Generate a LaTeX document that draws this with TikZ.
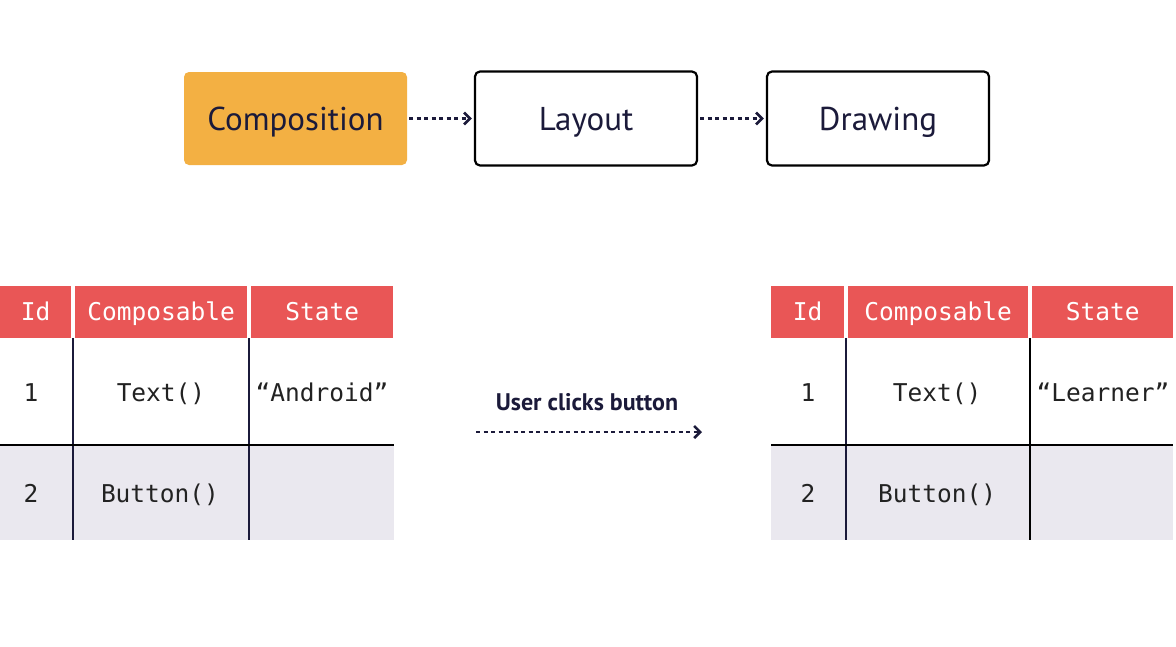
\documentclass[tikz,border=0pt]{standalone}
\usepackage{fontspec}
\setmainfont{PT Sans}
\setmonofont{DejaVu Sans Mono}
\usetikzlibrary{arrows.meta}
\definecolor{navy}{HTML}{1B1A3A}
\definecolor{orangebox}{HTML}{F3B043}
\definecolor{hdrred}{HTML}{E95656}
\definecolor{rowgray}{HTML}{EAE8EF}
\definecolor{celltext}{HTML}{222222}
\begin{document}
\begin{tikzpicture}[x=1pt,y=-1pt,
  stagefont/.style={text=navy, text height=23pt, text depth=0pt, font=\fontsize{33}{36}\selectfont},
  stage/.style={draw=black, line width=2.2pt, rounded corners=5pt, minimum width=222pt, minimum height=94pt, inner sep=0pt, stagefont},
  stagefill/.style={fill=orangebox, rounded corners=5pt, minimum width=223pt, minimum height=93pt, inner sep=0pt, stagefont},
  flow/.style={draw=navy, line width=2.4pt, dash pattern=on 4pt off 3.5pt, -{Straight Barb[length=6pt,width=12pt,line width=2.6pt]}},
  hdr/.style={fill=hdrred, text=white, inner sep=0pt, anchor=north west, minimum height=52pt, text height=17pt, text depth=-3pt, font=\ttfamily\fontsize{24.5}{27}\selectfont},
  cell/.style={text=celltext, inner sep=0pt, text height=17pt, text depth=0pt, font=\ttfamily\fontsize{24.5}{27}\selectfont},
  gridline/.style={draw=navy, line width=2.2pt}
]
\useasboundingbox[fill=white] (0,0) rectangle (1176,646);

% top flow
\node[stagefill] (comp) at (295.5,118.5) {Composition};
\node[stage] (layout) at (586,118.5) {Layout};
\node[stage] (drawing) at (878,118.5) {Drawing};
\draw[flow] ([xshift=2pt]comp.east) -- ([xshift=-2pt]layout.west);
\draw[flow] ([xshift=2pt]layout.east) -- ([xshift=-2pt]drawing.west);

% left table
\fill[rowgray] (0,445) rectangle (394,540);
\node[hdr, minimum width=71pt] (lid) at (0,286) {Id};
\node[hdr, minimum width=172pt] (lcomp) at (75,286) {Composable};
\node[hdr, minimum width=142pt] (lstate) at (251,286) {State};
\draw[gridline] (73,338) -- (73,540);
\draw[gridline] (249,338) -- (249,540);
\draw[draw=black, line width=2.2pt] (0,445) -- (394,445);
\node[cell] (l1id) at (31,393) {1};
\node[cell] (l1comp) at (161,393) {Text()};
\node[cell] (l1state) at (322,393) {“Android”};
\node[cell] (l2id) at (31,494) {2};
\node[cell] (l2comp) at (160,494) {Button()};

% right table
\fill[rowgray] (771,445) rectangle (1173,540);
\node[hdr, minimum width=73pt] (rid) at (771,286) {Id};
\node[hdr, minimum width=180pt] (rcomp) at (848,286) {Composable};
\node[hdr, minimum width=141pt] (rstate) at (1032,286) {State};
\draw[gridline] (846,338) -- (846,540);
\draw[draw=black, line width=2.2pt] (1030,338) -- (1030,540);
\draw[draw=black, line width=2.2pt] (771,445) -- (1173,445);
\node[cell] (r1id) at (808,393) {1};
\node[cell] (r1comp) at (937,393) {Text()};
\node[cell] (r1state) at (1103,393) {“Learner”};
\node[cell] (r2id) at (808,494) {2};
\node[cell] (r2comp) at (937,494) {Button()};

% middle transition
\node[text=navy, text height=16pt, text depth=0pt, font=\bfseries\fontsize{24}{27}\selectfont] (click) at (587,402) {User clicks button};
\coordinate (cs) at (476,432);
\coordinate (ce) at (702,432);
\draw[flow] (cs) -- (ce);
\end{tikzpicture}
\end{document}
